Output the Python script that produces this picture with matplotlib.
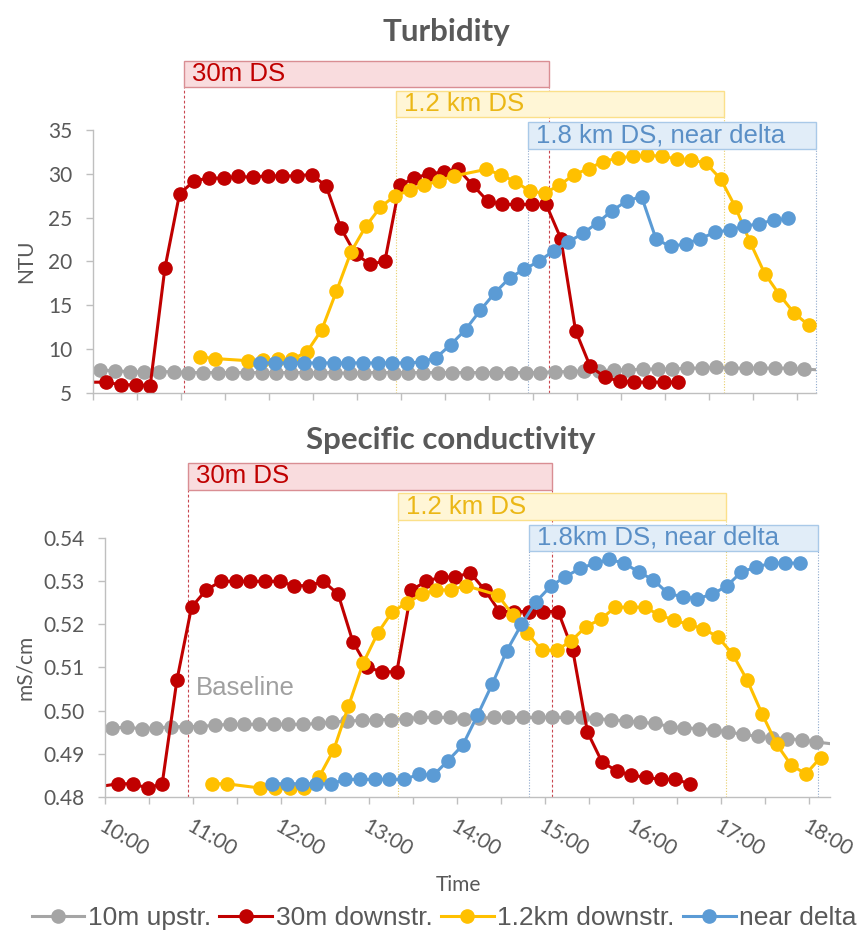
import numpy as np
import matplotlib
matplotlib.use("Agg")
import matplotlib.pyplot as plt
from matplotlib.patches import Rectangle
from matplotlib.lines import Line2D
from matplotlib.ticker import FormatStrFormatter
from matplotlib.transforms import blended_transform_factory

# ---- data -------------------------------------------------------------
# loggers record every 10 minutes; start times in minutes after 10:00
STEP = 10
gray_start = -5
red_start = -1
blue_start = 114
yellow_starts = [73, 106, 268]   # the 1.2 km logger has two gaps

series_names = ["10m upstr.", "30m downstr.", "1.2km downstr.", "near delta"]
series_colors = ["#A5A5A5", "#C00000", "#FFC000", "#5B9BD5"]

turb_gray = [7.6, 7.6, 7.5, 7.4, 7.4, 7.4, 7.4, 7.3, 7.3, 7.3, 7.3, 7.3, 7.3, 7.3,
             7.3, 7.3, 7.3, 7.3, 7.2, 7.3, 7.3, 7.3, 7.3, 7.3, 7.3, 7.3, 7.3, 7.3,
             7.3, 7.3, 7.3, 7.3, 7.4, 7.4, 7.5, 7.5, 7.6, 7.6, 7.7, 7.7, 7.7, 7.8,
             7.8, 7.9, 7.8, 7.8, 7.8, 7.8, 7.8, 7.7, 7.6]
turb_red = [6.2, 6.2, 5.9, 5.9, 5.8, 19.2, 27.7, 29.2, 29.5, 29.5, 29.7, 29.6, 29.8,
            29.7, 29.8, 29.9, 28.6, 23.8, 20.8, 19.7, 20.0, 28.7, 29.5, 30.0, 30.2,
            30.5, 28.7, 26.9, 26.5, 26.5, 26.5, 26.5, 22.6, 12.1, 8.0, 6.8, 6.3,
            6.2, 6.2, 6.2, 6.2]
turb_yellow = [
    [9.1, 8.9],
    [8.65, 8.7, 8.8, 8.8, 9.7, 12.2, 16.6, 21.1, 24.0, 26.2, 27.5, 28.1, 28.7,
     29.2, 29.75],
    [30.5, 29.9, 29.1, 28.0, 27.8, 28.7, 29.9, 30.6, 31.4, 31.8, 32.0, 32.1, 32.0,
     31.7, 31.6, 31.2, 29.4, 26.2, 22.2, 18.6, 16.2, 14.1, 12.7],
]
turb_blue = [8.4, 8.4, 8.4, 8.4, 8.4, 8.4, 8.4, 8.4, 8.4, 8.4, 8.4, 8.5, 9.0, 10.5,
             12.2, 14.4, 16.4, 18.1, 19.1, 20.0, 21.2, 22.2, 23.2, 24.4, 25.8, 26.9,
             27.4, 22.5, 21.7, 22.0, 22.6, 23.3, 23.6, 24.0, 24.3, 24.7, 24.9]

cond_gray = [0.4960, 0.4960, 0.4961, 0.4958, 0.4960, 0.4962, 0.4963, 0.4963, 0.4966,
             0.4968, 0.4968, 0.4968, 0.4968, 0.4968, 0.4968, 0.4970, 0.4973, 0.4976,
             0.4977, 0.4979, 0.4979, 0.4981, 0.4984, 0.4984, 0.4984, 0.4981, 0.4982,
             0.4984, 0.4984, 0.4984, 0.4984, 0.4984, 0.4984, 0.4984, 0.4981, 0.4979,
             0.4976, 0.4973, 0.4970, 0.4963, 0.4960, 0.4958, 0.4956, 0.4950, 0.4945,
             0.4940, 0.4937, 0.4935, 0.4932, 0.4927, 0.4923]
cond_red = [0.4825, 0.483, 0.483, 0.482, 0.483, 0.507, 0.524, 0.528, 0.530, 0.530,
            0.530, 0.530, 0.530, 0.529, 0.529, 0.530, 0.527, 0.516, 0.510, 0.509,
            0.509, 0.528, 0.530, 0.531, 0.531, 0.532, 0.528, 0.523, 0.523, 0.523,
            0.523, 0.523, 0.514, 0.495, 0.488, 0.486, 0.485, 0.4845, 0.484, 0.484,
            0.483]
cond_yellow = [
    [0.483, 0.483],
    [0.482, 0.482, 0.482, 0.482, 0.4846, 0.4909, 0.501, 0.511, 0.518, 0.523, 0.525,
     0.527, 0.528, 0.528, 0.529],
    [0.5268, 0.5222, 0.518, 0.514, 0.514, 0.5162, 0.5195, 0.5212, 0.524, 0.524,
     0.524, 0.5222, 0.521, 0.520, 0.519, 0.5171, 0.5131, 0.507, 0.4993, 0.4922,
     0.4873, 0.4853, 0.4891],
]
cond_blue = [0.483, 0.483, 0.483, 0.483, 0.483, 0.484, 0.484, 0.484, 0.484, 0.484,
             0.4852, 0.4850, 0.4884, 0.4920, 0.4989, 0.5061, 0.5139, 0.5200, 0.5253,
             0.5289, 0.5311, 0.5330, 0.5342, 0.5351, 0.5342, 0.5322, 0.5303, 0.5272,
             0.5264, 0.5260, 0.5270, 0.5289, 0.5322, 0.5333, 0.5342, 0.5343, 0.5342]

hour_labels = ["10:00", "11:00", "12:00", "13:00", "14:00", "15:00", "16:00",
               "17:00", "18:00"]

GREY_TEXT = "#595959"
AXIS_GREY = "#BFBFBF"
TICK_FONT = "Lato"
ARIAL = ["Liberation Sans", "DejaVu Sans"]


def clock(start, n):
    """hours of day for n samples starting `start` minutes after 10:00"""
    return 10 + (start + STEP * np.arange(n)) / 60.0


def draw_series(ax, gray, red, yellow_parts, blue):
    kw = dict(lw=2.2, marker="o", ms=9.5, clip_on=True)
    ax.plot(clock(gray_start, len(gray)), gray, color=series_colors[0],
            markevery=slice(1, len(gray) - 1), **kw)
    ax.plot(clock(red_start, len(red)), red, color=series_colors[1],
            markevery=slice(1, None), **kw)
    yt = np.concatenate([clock(s, len(p)) for s, p in zip(yellow_starts, yellow_parts)])
    yv = np.concatenate(yellow_parts)
    ax.plot(yt, yv, color=series_colors[2], **kw)
    ax.plot(clock(blue_start, len(blue)), blue, color=series_colors[3], **kw)


def style_axes(ax, xmax):
    ax.set_xlim(10, xmax)
    for s in ["top", "right"]:
        ax.spines[s].set_visible(False)
    for s in ["left", "bottom"]:
        ax.spines[s].set_color(AXIS_GREY)
        ax.spines[s].set_linewidth(1.0)
    ax.set_xticks(np.arange(10, 18.01, 1))
    ax.set_xticks(np.arange(10.5, 18, 1), minor=True)
    ax.tick_params(axis="both", which="both", direction="out", length=5,
                   width=1.0, color=AXIS_GREY, labelcolor=GREY_TEXT, labelsize=15)
    ax.tick_params(axis="y", pad=10)
    for lab in ax.get_yticklabels():
        lab.set_family(TICK_FONT)


def windows(ax, spans, labels, ybands):
    trans = blended_transform_factory(ax.transData, ax.transAxes)
    styles = [
        dict(face="#F9DCDE", edge="#D98E93", text="#C00000", line="#C9474F", ls=(0, (2.5, 2))),
        dict(face="#FFF6D6", edge="#FBE08A", text="#EBB716", line="#E9CF6A", ls=(0, (1, 1.5))),
        dict(face="#E1EDF8", edge="#A9C9E8", text="#5A8FC6", line="#8FA9CC", ls=(0, (1, 1.5))),
    ]
    for (x0, x1), lab, (y0, y1), st in zip(spans, labels, ybands, styles):
        ax.add_patch(Rectangle((x0, y0), x1 - x0, y1 - y0, transform=trans,
                               facecolor=st["face"], edgecolor=st["edge"], lw=1.0,
                               clip_on=False, zorder=5))
        for xv in (x0, x1):
            ax.plot([xv, xv], [0, y0], transform=trans, color=st["line"], lw=0.8,
                    linestyle=st["ls"], clip_on=False, zorder=1)
        ax.text(x0 + 0.09, (y0 + y1) / 2, lab, transform=trans, color=st["text"],
                fontsize=18.5, family=ARIAL, ha="left", va="center", zorder=6)


fig = plt.figure(figsize=(8.61, 9.33), dpi=100)

# ---- turbidity ----------------------------------------------------------
ax1 = fig.add_axes([93 / 861, 1 - 392.7 / 933, 723 / 861, 262.7 / 933])
draw_series(ax1, turb_gray, turb_red, turb_yellow, turb_blue)
style_axes(ax1, 18.216)
ax1.set_ylim(5, 35)
ax1.set_yticks(np.arange(5, 36, 5))
for lab in ax1.get_yticklabels():
    lab.set_family(TICK_FONT)
ax1.tick_params(axis="x", labelbottom=False)
ax1.set_ylabel("NTU", fontsize=15, color=GREY_TEXT, family=TICK_FONT)
ax1.yaxis.set_label_coords(-0.078, 0.5)
windows(ax1, [(11.03, 15.18), (13.44, 17.17), (14.94, 18.216)],
        ["30m DS", "1.2 km DS", "1.8 km DS, near delta"],
        [(1.163, 1.263), (1.048, 1.150), (0.928, 1.032)])

# ---- specific conductivity ---------------------------------------------
ax2 = fig.add_axes([105 / 861, 1 - 796.7 / 933, 725 / 861, 258.4 / 933])
draw_series(ax2, cond_gray, cond_red, cond_yellow, cond_blue)
style_axes(ax2, 18.24)
ax2.set_ylim(0.48, 0.54)
ax2.set_yticks(np.arange(0.48, 0.5401, 0.01))
ax2.yaxis.set_major_formatter(FormatStrFormatter("%.2f"))
for lab in ax2.get_yticklabels():
    lab.set_family(TICK_FONT)
ax2.set_xticklabels(hour_labels, rotation=-30, ha="left", va="top",
                    rotation_mode="anchor", fontsize=15, family=TICK_FONT,
                    color=GREY_TEXT)
ax2.tick_params(axis="x", pad=9)
ax2.set_ylabel("mS/cm", fontsize=15, color=GREY_TEXT, family=TICK_FONT)
ax2.yaxis.set_label_coords(-0.097, 0.5)
ax2.text(11.03, 0.5052, "Baseline", fontsize=18.5, color="#A0A0A0", family=ARIAL,
         va="center", ha="left")
windows(ax2, [(10.94, 15.08), (13.33, 17.06), (14.82, 18.10)],
        ["30m DS", "1.2 km DS", "1.8km DS, near delta"],
        [(1.187, 1.293), (1.071, 1.174), (0.951, 1.052)])

# ---- titles, axis title, legend -----------------------------------------
fig.text(0.519, 0.966, "Turbidity", ha="center", va="center", fontsize=22.5,
         fontweight="bold", color=GREY_TEXT, family=TICK_FONT)
fig.text(0.524, 0.528, "Specific conductivity", ha="center", va="center",
         fontsize=22.5, fontweight="bold", color=GREY_TEXT, family=TICK_FONT)
fig.text(0.533, 0.0514, "Time", ha="center", va="center", fontsize=15,
         color=GREY_TEXT, family=TICK_FONT)

handles = [Line2D([], [], color=c, lw=2.2, marker="o", ms=9.5) for c in series_colors]
leg = fig.legend(handles, series_names, loc="center", bbox_to_anchor=(0.516, 0.016),
                 ncol=4, frameon=False, handlelength=2.0, handletextpad=0.15,
                 columnspacing=0.3, prop={"family": ARIAL, "size": 19})
for t in leg.get_texts():
    t.set_color(GREY_TEXT)

fig.savefig("out.png", dpi=100)
